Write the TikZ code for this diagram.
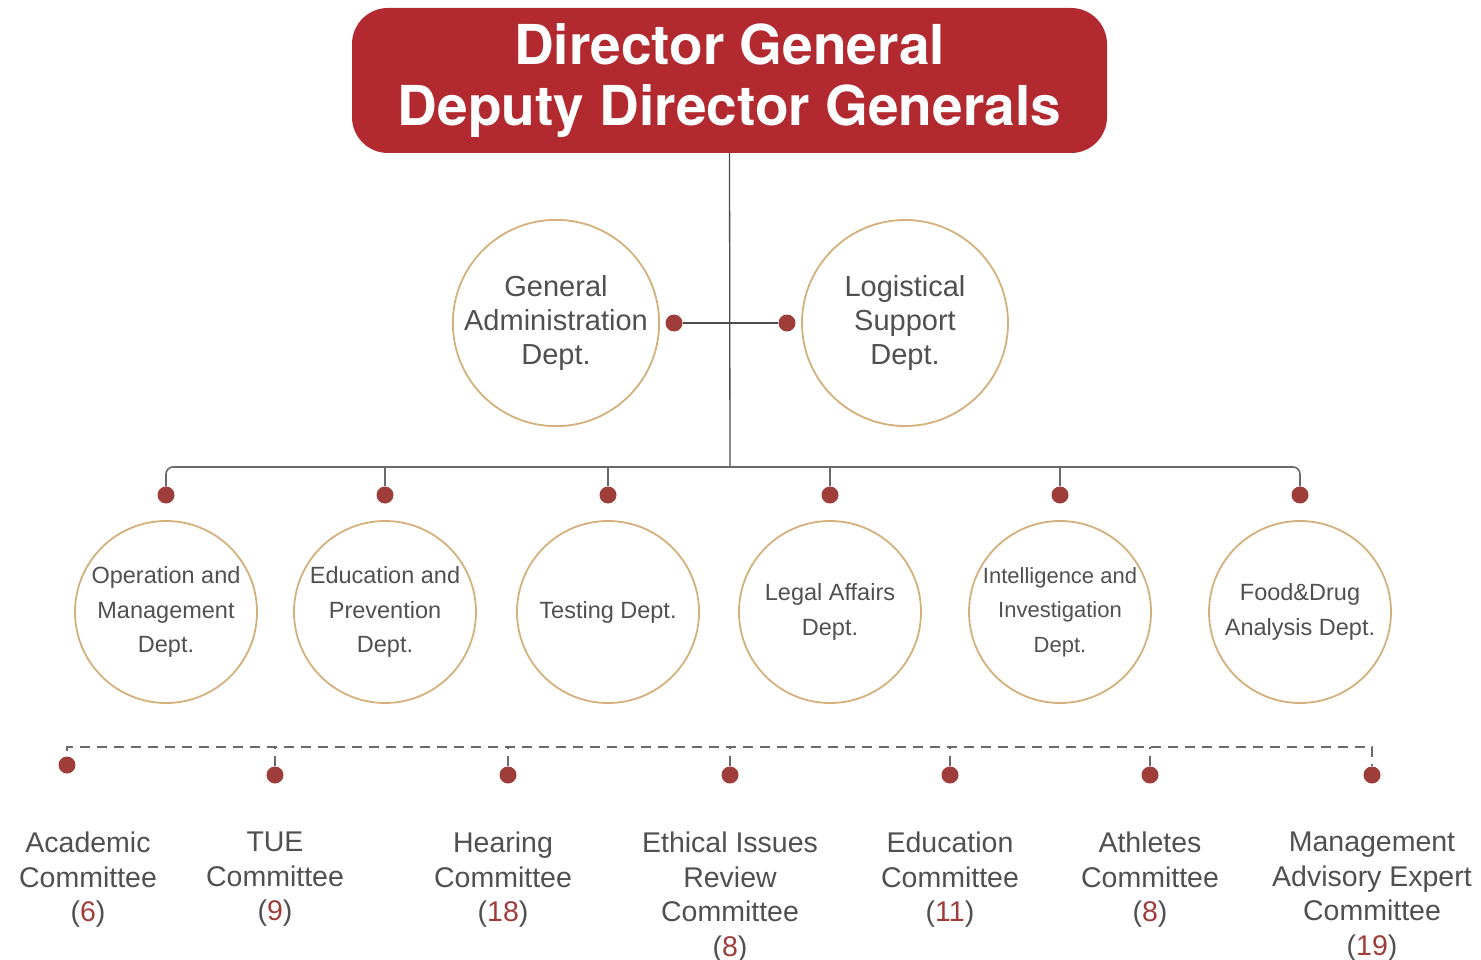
\documentclass[tikz,border=0pt]{standalone}
\usepackage{fontspec}
\setmainfont{Liberation Sans}
\newfontfamily\headfont{TeX Gyre Heros}
\usepackage{xcolor}
\usetikzlibrary{positioning}

\definecolor{headred}{HTML}{B22A30}
\definecolor{dotred}{HTML}{9E3D3A}
\definecolor{ringtan}{HTML}{D4B07C}
\definecolor{txtgray}{HTML}{505050}
\definecolor{linegray}{HTML}{6A6A6A}

\newcommand{\cnt}[1]{(\textcolor{dotred}{#1})}

\begin{document}
\begin{tikzpicture}[x=1pt, y=-1pt,
  headbox/.style={fill=headred, rounded corners=36pt, minimum width=755pt, minimum height=145pt,
    inner sep=0pt, text=white, align=center, font=\headfont\bfseries\fontsize{55}{61}\selectfont},
  bigring/.style={circle, draw=ringtan, line width=1.8pt, minimum size=206pt, inner sep=0pt,
    text=txtgray, align=center, font=\fontsize{29}{34}\selectfont},
  ring/.style={circle, draw=ringtan, line width=1.8pt, minimum size=182pt, inner sep=0pt,
    text=txtgray, align=center, font=\fontsize{23.5}{34.5}\selectfont},
  reddot/.style={circle, fill=dotred, minimum size=17pt, inner sep=0pt},
  committee/.style={anchor=north, inner sep=0pt, text=txtgray, align=center,
    font=\fontsize{28.5}{34.5}\selectfont},
  bus/.style={draw=linegray, line width=1.6pt},
  dashbus/.style={draw=linegray, line width=1.6pt, dash pattern=on 10pt off 7pt}]
\useasboundingbox (0,0) rectangle (1481,960);

% Header box
\node[headbox] (head) at (729.5,80.5) {Director General\\Deputy Director Generals};

% Staff departments beside the main line
\node[bigring] (ga) at (556,323) {General\\Administration\\Dept.};
\node[bigring] (ls) at (905,323) {Logistical\\Support\\Dept.};
\node[reddot] (gadot) at (674,323) {};
\node[reddot] (lsdot) at (787,323) {};

% Coordinates of the two bus lines
\coordinate (hub) at (730,467);
\coordinate (dhub) at (730,747);

% Draw main line and staff branch
\draw[bus, draw=black!70, line width=1.3pt] (head.south) -- (hub);
\draw[bus, draw=black!70, line width=1.3pt] (gadot) -- (lsdot);

% Departments
\node[reddot] (d1) at (166,495) {};
\node[reddot] (d2) at (385,495) {};
\node[reddot] (d3) at (608,495) {};
\node[reddot] (d4) at (830,495) {};
\node[reddot] (d5) at (1060,495) {};
\node[reddot] (d6) at (1300,495) {};

\node[ring] (om) at (166,612) {Operation and\\Management\\Dept.};
\node[ring] (ep) at (385,612) {Education and\\Prevention\\Dept.};
\node[ring] (td) at (608,612) {Testing Dept.};
\node[ring] (la) at (830,612) {Legal Affairs\\Dept.};
\node[ring, font=\fontsize{22}{34.5}\selectfont] (ii) at (1060,612) {Intelligence and\\Investigation\\Dept.};
\node[ring] (fd) at (1300,612) {Food\&Drug\\Analysis Dept.};

% Draw department bus
\draw[bus, rounded corners=7pt] (d1) |- (hub) -| (d6);
\draw[bus] (d2) -- (d2 |- hub);
\draw[bus] (d3) -- (d3 |- hub);
\draw[bus] (d4) -- (d4 |- hub);
\draw[bus] (d5) -- (d5 |- hub);

% Committees
\node[reddot] (c1) at (67,765) {};
\node[reddot] (c2) at (275,775) {};
\node[reddot] (c3) at (508,775) {};
\node[reddot] (c4) at (730,775) {};
\node[reddot] (c5) at (950,775) {};
\node[reddot] (c6) at (1150,775) {};
\node[reddot] (c7) at (1372,775) {};

% Draw committee bus (dashed)
\draw[dashbus] (c1.north) ++(0,-5) |- (dhub) -| (c7);
\draw[dashbus] (c2) -- (c2 |- dhub);
\draw[dashbus] (c3) -- (c3 |- dhub);
\draw[dashbus] (c4) -- (c4 |- dhub);
\draw[dashbus] (c5) -- (c5 |- dhub);
\draw[dashbus] (c6) -- (c6 |- dhub);

\node[committee] (ac) at (88,832) {Academic\\Committee\\\cnt{6}};
\node[committee] (tue) at (275,832) {TUE\\Committee\\\cnt{9}};
\node[committee] (hc) at (503,832) {Hearing\\Committee\\\cnt{18}};
\node[committee] (ei) at (730,832) {Ethical Issues\\Review\\Committee\\\cnt{8}};
\node[committee] (ec) at (950,832) {Education\\Committee\\\cnt{11}};
\node[committee] (at) at (1150,832) {Athletes\\Committee\\\cnt{8}};
\node[committee] (ma) at (1372,832) {Management\\Advisory Expert\\Committee\\\cnt{19}};

\end{tikzpicture}
\end{document}
